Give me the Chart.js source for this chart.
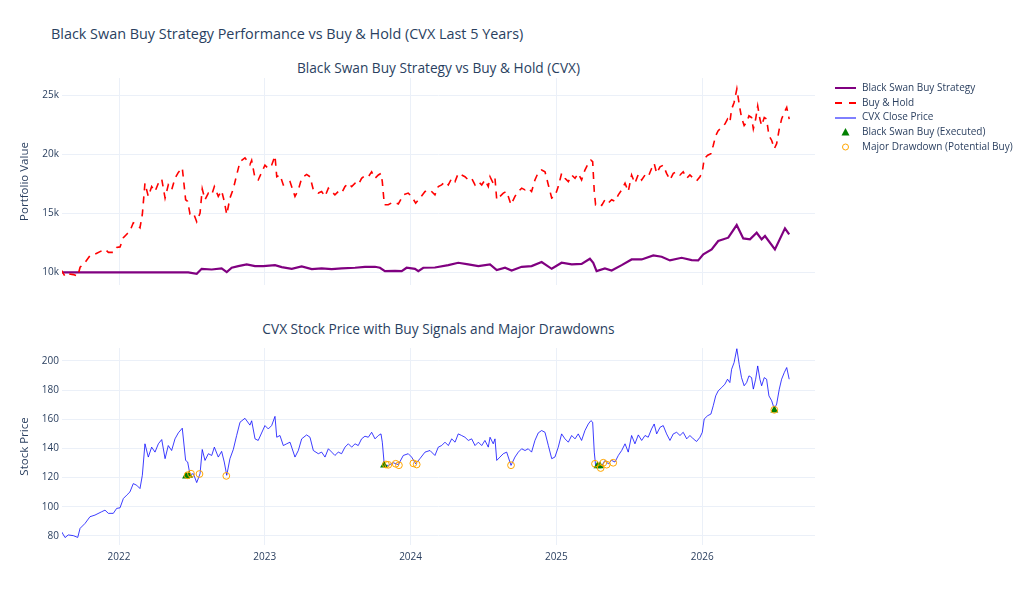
<!DOCTYPE html>
<html>
<head>
<meta charset="utf-8">
<title>Black Swan Buy Strategy vs Buy & Hold (CVX)</title>
<script src="https://cdn.jsdelivr.net/npm/chart.js@4.4.1/dist/chart.umd.min.js"></script>
<style>
  body { margin: 0; background: #fff; font-family: "Open Sans", Verdana, Arial, sans-serif; color: #2a3f5f; }
  #wrap { position: relative; width: 1024px; height: 611px; overflow: hidden; }
  canvas { position: absolute; left: 0; }
  .title { position: absolute; left: 51px; top: 24px; font-size: 14.4px; line-height: 20px; white-space: nowrap; }
  .subtitle { position: absolute; left: 62px; width: 753px; text-align: center; font-size: 13.7px; line-height: 18px; white-space: nowrap; }
  #legend { position: absolute; left: 834px; top: 80px; font-size: 10px; }
  #legend .item { height: 14.7px; line-height: 14.7px; white-space: nowrap; }
  #legend svg { vertical-align: middle; margin-right: 5px; }
</style>
</head>
<body>
<div id="wrap">
  <div class="title">Black Swan Buy Strategy Performance vs Buy &amp; Hold (CVX Last 5 Years)</div>
  <div class="subtitle" style="top:59px">Black Swan Buy Strategy vs Buy &amp; Hold (CVX)</div>
  <div class="subtitle" style="top:320px">CVX Stock Price with Buy Signals and Major Drawdowns</div>
  <canvas id="topChart" width="1024" height="300" style="top:0;width:1024px;height:300px"></canvas>
  <canvas id="bottomChart" width="1024" height="311" style="top:300px;width:1024px;height:311px"></canvas>
  <div id="legend"></div>
</div>
<script>
// dates as fractional years
const priceYears = [
  2021.602, 2021.630, 2021.652, 2021.687, 2021.717, 2021.733, 2021.767, 2021.801, 2021.835, 2021.881,
  2021.904, 2021.927, 2021.961, 2021.984, 2022.007, 2022.030, 2022.053, 2022.075, 2022.098, 2022.121,
  2022.144, 2022.160, 2022.178, 2022.201, 2022.224, 2022.247, 2022.270, 2022.293, 2022.316, 2022.338,
  2022.361, 2022.384, 2022.407, 2022.434, 2022.457, 2022.471, 2022.487, 2022.510, 2022.533, 2022.556,
  2022.571, 2022.590, 2022.613, 2022.636, 2022.654, 2022.681, 2022.704, 2022.722, 2022.739, 2022.761,
  2022.784, 2022.807, 2022.830, 2022.864, 2022.898, 2022.910, 2022.933, 2022.955, 2023.001, 2023.024,
  2023.047, 2023.070, 2023.082, 2023.104, 2023.127, 2023.150, 2023.173, 2023.207, 2023.230, 2023.253,
  2023.287, 2023.310, 2023.333, 2023.367, 2023.390, 2023.413, 2023.436, 2023.459, 2023.481, 2023.504,
  2023.527, 2023.550, 2023.573, 2023.596, 2023.619, 2023.641, 2023.664, 2023.687, 2023.710, 2023.733,
  2023.756, 2023.779, 2023.797, 2023.806, 2023.820, 2023.847, 2023.881, 2023.916, 2023.950, 2023.984,
  2024.007, 2024.035, 2024.064, 2024.099, 2024.133, 2024.167, 2024.190, 2024.213, 2024.236, 2024.259,
  2024.282, 2024.305, 2024.327, 2024.350, 2024.373, 2024.396, 2024.419, 2024.442, 2024.465, 2024.488,
  2024.510, 2024.533, 2024.545, 2024.567, 2024.579, 2024.591, 2024.613, 2024.636, 2024.659, 2024.689,
  2024.716, 2024.739, 2024.762, 2024.785, 2024.807, 2024.830, 2024.853, 2024.876, 2024.899, 2024.922,
  2024.945, 2024.968, 2024.990, 2025.013, 2025.036, 2025.059, 2025.082, 2025.105, 2025.128, 2025.150,
  2025.173, 2025.196, 2025.219, 2025.237, 2025.249, 2025.260, 2025.269, 2025.287, 2025.311, 2025.333,
  2025.356, 2025.379, 2025.402, 2025.425, 2025.448, 2025.471, 2025.493, 2025.516, 2025.539, 2025.562,
  2025.585, 2025.608, 2025.630, 2025.653, 2025.671, 2025.688, 2025.711, 2025.733, 2025.756, 2025.779,
  2025.802, 2025.825, 2025.848, 2025.870, 2025.894, 2025.916, 2025.939, 2025.962, 2025.985, 2026.001,
  2026.014, 2026.038, 2026.060, 2026.076, 2026.093, 2026.110, 2026.134, 2026.156, 2026.174, 2026.190,
  2026.202, 2026.219, 2026.238, 2026.254, 2026.270, 2026.288, 2026.305, 2026.321, 2026.339, 2026.351,
  2026.367, 2026.381, 2026.396, 2026.408, 2026.426, 2026.442, 2026.458, 2026.477, 2026.495, 2026.511,
  2026.529, 2026.545, 2026.563, 2026.580, 2026.597
];

const closePrice = [
  83.6, 78.9, 80.7, 80.2, 79.0, 85.2, 88.6, 93.2, 94.3, 96.6,
  97.7, 95.5, 95.5, 98.9, 99.3, 105.7, 108.0, 110.2, 115.9, 114.8,
  112.5, 121.6, 143.2, 134.1, 140.9, 137.5, 143.2, 146.1, 133.0, 142.0,
  138.6, 146.6, 150.7, 153.9, 131.8, 130.7, 122.0, 122.7, 116.6, 122.7,
  139.3, 131.8, 136.4, 135.2, 140.9, 134.1, 138.0, 130.7, 121.6, 133.0,
  139.3, 148.9, 158.0, 160.7, 156.0, 159.0, 146.6, 145.5, 155.7, 153.4,
  155.7, 162.0, 147.7, 148.9, 142.0, 143.2, 144.3, 134.1, 138.6, 146.6,
  149.3, 147.7, 138.6, 136.4, 137.5, 134.1, 139.8, 137.5, 135.2, 137.5,
  136.4, 140.9, 143.2, 140.9, 143.2, 142.0, 146.6, 148.4, 147.7, 151.1,
  146.6, 148.9, 150.0, 144.3, 128.4, 128.4, 130.2, 128.9, 135.2, 136.4,
  134.1, 129.5, 133.0, 137.5, 138.6, 135.2, 140.9, 142.0, 144.3, 142.0,
  146.6, 144.3, 150.0, 148.9, 147.7, 145.5, 146.6, 142.0, 144.3, 142.0,
  145.5, 140.9, 147.7, 143.2, 146.6, 131.8, 134.1, 136.4, 137.5, 128.4,
  134.1, 137.5, 139.8, 138.6, 139.8, 137.5, 145.5, 150.7, 152.3, 151.1,
  142.0, 133.0, 134.1, 140.9, 150.0, 146.6, 144.3, 148.9, 146.6, 150.0,
  145.5, 152.3, 156.8, 159.1, 158.0, 137.5, 128.4, 129.5, 128.0, 131.8,
  129.5, 131.8, 130.7, 135.2, 138.6, 143.2, 137.5, 148.9, 143.2, 149.3,
  145.5, 148.9, 147.7, 153.4, 156.8, 150.0, 154.5, 155.7, 150.0, 145.5,
  150.0, 151.1, 148.9, 151.1, 146.6, 148.9, 146.6, 144.8, 147.7, 151.1,
  160.2, 162.5, 163.6, 169.3, 176.1, 179.5, 181.8, 184.1, 187.5, 185.2,
  194.3, 198.9, 208.4, 197.7, 188.6, 183.0, 185.2, 189.8, 188.6, 180.7,
  187.5, 196.6, 187.5, 183.0, 188.6, 187.5, 176.1, 172.7, 167.0, 170.5,
  180.7, 187.5, 192.0, 195.5, 187.5
];

const buyHoldValue = [
  10240, 9670, 9890, 9820, 9680, 10440, 10850, 11420, 11550, 11830,
  11970, 11700, 11700, 12120, 12160, 12950, 13230, 13500, 14200, 14060,
  13780, 14900, 17540, 16430, 17260, 16840, 17540, 17900, 16290, 17400,
  16980, 17960, 18460, 18850, 16150, 16010, 14950, 15030, 14280, 15030,
  17060, 16150, 16710, 16560, 17260, 16430, 16910, 16010, 14900, 16290,
  17060, 18240, 19360, 19690, 19110, 19480, 17960, 17820, 19070, 18790,
  19070, 19850, 18090, 18240, 17400, 17540, 17680, 16430, 16980, 17960,
  18290, 18090, 16980, 16710, 16840, 16430, 17130, 16840, 16560, 16840,
  16710, 17260, 17540, 17260, 17540, 17400, 17960, 18180, 18090, 18510,
  17960, 18240, 18380, 17680, 15730, 15730, 15950, 15790, 16560, 16710,
  16430, 15860, 16290, 16840, 16980, 16560, 17260, 17400, 17680, 17400,
  17960, 17680, 18380, 18240, 18090, 17820, 17960, 17400, 17680, 17400,
  17820, 17260, 18090, 17540, 17960, 16150, 16430, 16710, 16840, 15730,
  16430, 16840, 17130, 16980, 17130, 16840, 17820, 18460, 18660, 18510,
  17400, 16290, 16430, 17260, 18380, 17960, 17680, 18240, 17960, 18380,
  17820, 18660, 19210, 19490, 19360, 16840, 15730, 15860, 15680, 16150,
  15860, 16150, 16010, 16560, 16980, 17540, 16840, 18240, 17540, 18290,
  17820, 18240, 18090, 18790, 19210, 18380, 18930, 19070, 18380, 17820,
  18380, 18510, 18240, 18510, 17960, 18240, 17960, 17740, 18090, 18510,
  19620, 19910, 20040, 20740, 21570, 21990, 22270, 22550, 22970, 22690,
  23800, 24370, 25530, 24220, 23100, 22420, 22690, 23250, 23100, 22140,
  22970, 24080, 22970, 22420, 23100, 22970, 21570, 21160, 20460, 20890,
  22140, 22970, 23520, 23950, 22970
];

const strategyYears = [
  2021.602, 2022.475, 2022.533, 2022.567, 2022.636, 2022.704, 2022.739, 2022.773, 2022.818, 2022.876,
  2022.933, 2022.990, 2023.070, 2023.116, 2023.185, 2023.253, 2023.322, 2023.390, 2023.459, 2023.527,
  2023.619, 2023.687, 2023.756, 2023.790, 2023.824, 2023.893, 2023.939, 2023.973, 2024.030, 2024.053,
  2024.087, 2024.167, 2024.259, 2024.327, 2024.396, 2024.465, 2024.545, 2024.591, 2024.648, 2024.693,
  2024.762, 2024.830, 2024.899, 2024.968, 2025.036, 2025.105, 2025.173, 2025.230, 2025.253, 2025.276,
  2025.333, 2025.379, 2025.448, 2025.516, 2025.585, 2025.665, 2025.722, 2025.779, 2025.859, 2025.928,
  2025.973, 2026.008, 2026.065, 2026.110, 2026.179, 2026.237, 2026.282, 2026.328, 2026.374, 2026.408,
  2026.431, 2026.499, 2026.568, 2026.597
];

const strategyValue = [
  10000, 10000, 9890, 10310, 10250, 10340, 10030, 10400, 10540, 10680,
  10540, 10540, 10620, 10450, 10310, 10510, 10280, 10340, 10280, 10340,
  10400, 10480, 10480, 10400, 10110, 10140, 10110, 10400, 10310, 10110,
  10400, 10420, 10620, 10820, 10680, 10540, 10680, 10200, 10400, 10170,
  10480, 10540, 10880, 10310, 10820, 10680, 10730, 11160, 10820, 10110,
  10340, 10170, 10620, 11100, 11100, 11440, 11330, 11020, 11240, 11050,
  11020, 11530, 11950, 12660, 12940, 14010, 12880, 12800, 13360, 12800,
  13080, 11950, 13730, 13220
];

const executedYears = [2022.460, 2022.480, 2023.818, 2025.282, 2025.299, 2026.495];
const executedPrice = [121.0, 121.5, 128.5, 128.0, 128.0, 166.3];

const drawdownYears = [
  2022.471, 2022.494, 2022.552, 2022.736, 2023.831, 2023.847, 2023.898, 2023.920, 2024.019, 2024.042,
  2024.689, 2025.265, 2025.304, 2025.322, 2025.345, 2025.390, 2026.495
];
const drawdownPrice = [
  121.6, 122.7, 122.5, 121.2, 129.0, 128.8, 129.5, 128.5, 129.8, 129.0,
  128.5, 129.5, 126.6, 130.2, 128.9, 130.2, 166.5
];

const yearTicks = [2022, 2023, 2024, 2025, 2026];
const portfolioTicks = [10000, 15000, 20000, 25000];
const priceTicks = [80, 100, 120, 140, 160, 180, 200];

const textColor = "#2a3f5f";
const gridColor = "#ebf0f8";
const fontFamily = '"Open Sans", Verdana, Arial, sans-serif';

function toPoints(xs, ys) {
    return xs.map((x, i) => ({ x: x, y: ys[i] }));
}

function fixedTicks(values) {
    return (scale) => { scale.ticks = values.map(v => ({ value: v })); };
}

const xRange = { min: 2021.609, max: 2026.774 };

function xAxis(showLabels) {
    return {
        type: "linear",
        min: xRange.min,
        max: xRange.max,
        afterBuildTicks: fixedTicks(yearTicks),
        afterFit: (scale) => { scale.height = showLabels ? 66 : 0; },
        ticks: {
            display: showLabels,
            padding: 6,
            color: textColor,
            font: { family: fontFamily, size: 10 },
            callback: (v) => String(v)
        },
        grid: { color: gridColor, lineWidth: 1, drawTicks: false },
        border: { display: false }
    };
}

function yAxis(min, max, ticks, title, fmt) {
    return {
        min: min,
        max: max,
        afterBuildTicks: fixedTicks(ticks),
        afterFit: (scale) => { scale.width = 62; },
        ticks: {
            padding: 3,
            color: textColor,
            font: { family: fontFamily, size: 10 },
            callback: fmt
        },
        grid: { color: gridColor, lineWidth: 1, drawTicks: false },
        border: { display: false },
        title: {
            display: true,
            text: title,
            color: textColor,
            font: { family: fontFamily, size: 11.5 },
            padding: { top: 18, bottom: 0 }
        }
    };
}

const commonPlugins = {
    legend: { display: false },
    tooltip: { enabled: false }
};

// top: portfolio values
new Chart(document.getElementById("topChart"), {
    type: "line",
    data: {
        datasets: [
            {
                label: "Buy & Hold",
                data: toPoints(priceYears, buyHoldValue),
                borderColor: "#ff0000",
                borderWidth: 1.6,
                borderDash: [7, 6],
                pointRadius: 0,
                tension: 0
            },
            {
                label: "Black Swan Buy Strategy",
                data: toPoints(strategyYears, strategyValue),
                borderColor: "#800080",
                borderWidth: 2.2,
                pointRadius: 0,
                tension: 0
            }
        ]
    },
    options: {
        responsive: false,
        animation: false,
        layout: { padding: { left: 0, right: 209, top: 78, bottom: 15 } },
        plugins: commonPlugins,
        scales: {
            x: xAxis(false),
            y: yAxis(8940, 26440, portfolioTicks, "Portfolio Value", (v) => (v / 1000) + "k")
        }
    }
});

// bottom: price with signals
new Chart(document.getElementById("bottomChart"), {
    type: "line",
    data: {
        datasets: [
            {
                label: "Major Drawdown (Potential Buy)",
                type: "scatter",
                data: toPoints(drawdownYears, drawdownPrice),
                pointStyle: "circle",
                pointRadius: 3.4,
                borderColor: "#ffa500",
                backgroundColor: "rgba(0,0,0,0)",
                borderWidth: 1,
                order: 0
            },
            {
                label: "Black Swan Buy (Executed)",
                type: "scatter",
                data: toPoints(executedYears, executedPrice),
                pointStyle: "triangle",
                pointRadius: 4.6,
                borderColor: "#008000",
                backgroundColor: "#008000",
                borderWidth: 0,
                order: 1
            },
            {
                label: "CVX Close Price",
                data: toPoints(priceYears, closePrice),
                borderColor: "rgba(0,0,255,0.85)",
                borderWidth: 0.9,
                pointRadius: 0,
                tension: 0,
                order: 2
            }
        ]
    },
    options: {
        responsive: false,
        animation: false,
        layout: { padding: { left: 0, right: 209, top: 48, bottom: 0 } },
        plugins: commonPlugins,
        scales: {
            x: xAxis(true),
            y: yAxis(73.8, 208.9, priceTicks, "Stock Price", (v) => String(v))
        }
    }
});

// legend shared by both panels
const legendItems = [
    { label: "Black Swan Buy Strategy", icon: '<line x1="1" y1="7" x2="22" y2="7" stroke="#800080" stroke-width="2"/>' },
    { label: "Buy & Hold", icon: '<line x1="1" y1="7" x2="22" y2="7" stroke="#ff0000" stroke-width="2" stroke-dasharray="7,7"/>' },
    { label: "CVX Close Price", icon: '<line x1="1" y1="7" x2="22" y2="7" stroke="#0000ff" stroke-width="1"/>' },
    { label: "Black Swan Buy (Executed)", icon: '<polygon points="11.5,3 15.5,10.5 7.5,10.5" fill="#008000"/>' },
    { label: "Major Drawdown (Potential Buy)", icon: '<circle cx="11.5" cy="7" r="3" fill="none" stroke="#ffa500" stroke-width="1"/>' }
];
const legendEl = document.getElementById("legend");
legendItems.forEach(item => {
    const row = document.createElement("div");
    row.className = "item";
    row.innerHTML = '<svg width="23" height="14">' + item.icon + '</svg>';
    row.appendChild(document.createTextNode(item.label));
    legendEl.appendChild(row);
});
</script>
</body>
</html>
